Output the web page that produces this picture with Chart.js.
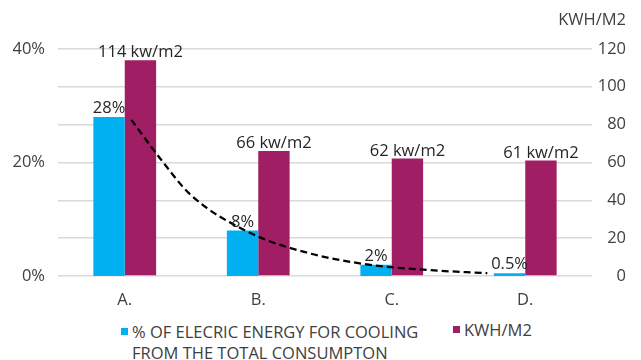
<!DOCTYPE html>
<html>
<head>
<meta charset="utf-8">
<script src="https://cdn.jsdelivr.net/npm/chart.js@4/dist/chart.umd.min.js"></script>
<style>
  html, body { margin: 0; padding: 0; background: #fff; }
  #wrap { position: relative; width: 641px; height: 360px; font-family: "Open Sans", sans-serif; color: #404040; }
  #chart-box { position: absolute; left: 0; top: 0; width: 641px; height: 312px; }
  .legend-item { position: absolute; font-size: 16.5px; line-height: 21px; }
  .legend-item .sw { position: absolute; width: 7px; height: 7px; left: 0; top: 7px; }
  .legend-item .txt { margin-left: 11px; }
</style>
</head>
<body>
<div id="wrap">
  <div id="chart-box"><canvas id="c"></canvas></div>
  <div class="legend-item" style="left:121px; top:321px;">
    <span class="sw" style="background:#00B0F0"></span>
    <div class="txt">% OF ELECRIC ENERGY FOR COOLING<br>FROM THE TOTAL CONSUMPTON</div>
  </div>
  <div class="legend-item" style="left:453px; top:319px;">
    <span class="sw" style="background:#A01E64"></span>
    <div class="txt">KWH/M2</div>
  </div>
</div>
<script>
// données
const categories = ['A.', 'B.', 'C.', 'D.'];
const coolingPct = [28, 8, 2, 0.5];      // % énergie pour le refroidissement
const kwhPerM2 = [114, 66, 62, 61];       // KWH/M2
// courbe de tendance en pointillés (position en catégories, valeur en %)
const trendPos = [0, 0.25, 0.5, 1, 1.5, 2, 2.5, 3];
const trendPct = [27.5, 20.5, 14.3, 7.6, 4.0, 2.0, 1.05, 0.5];
const pctTicks = [0, 20, 40];
const kwhTicks = [0, 20, 40, 60, 80, 100, 120];

const blue = '#00B0F0';
const purple = '#A01E64';
const textColor = '#404040';
const fontFamily = '"Open Sans", sans-serif';
const fontSize = 16.5;

Chart.defaults.font.family = fontFamily;
Chart.defaults.font.size = fontSize;
Chart.defaults.color = textColor;

// étiquettes au-dessus des barres
const barLabels = {
    id: 'barLabels',
    afterDatasetsDraw(chart) {
        const ctx = chart.ctx;
        ctx.save();
        ctx.font = fontSize + 'px ' + fontFamily;
        ctx.fillStyle = '#262626';
        ctx.textAlign = 'center';
        ctx.textBaseline = 'alphabetic';
        chart.getDatasetMeta(1).data.forEach((bar, i) => {
            ctx.fillText(coolingPct[i] + '%', bar.x, bar.y - 4);
        });
        chart.getDatasetMeta(2).data.forEach((bar, i) => {
            ctx.fillText(kwhPerM2[i] + ' kw/m2', bar.x, bar.y - 3);
        });
        ctx.restore();
    }
};

// la tendance suit le centre des barres bleues (comme dans Excel)
const shiftTrend = {
    id: 'shiftTrend',
    beforeDatasetDraw(chart, args) {
        if (args.index !== 0) return;
        const blueBar = chart.getDatasetMeta(1).data[0];
        const dx = blueBar.x - chart.scales.x.getPixelForValue(0);
        chart.ctx.save();
        chart.ctx.translate(dx, 0);
    },
    afterDatasetDraw(chart, args) {
        if (args.index !== 0) return;
        chart.ctx.restore();
    }
};

new Chart(document.getElementById('c'), {
    type: 'bar',
    data: {
        labels: categories,
        datasets: [
            {
                type: 'line',
                label: 'tendance',
                data: trendPos.map((p, i) => ({ x: p, y: trendPct[i] })),
                xAxisID: 'xt',
                yAxisID: 'y',
                borderColor: '#000',
                borderWidth: 2.25,
                borderDash: [7, 4],
                pointRadius: 0,
                cubicInterpolationMode: 'monotone',
                fill: false,
                clip: false,
                order: 0
            },
            {
                label: '% OF ELECRIC ENERGY FOR COOLING FROM THE TOTAL CONSUMPTON',
                data: coolingPct,
                backgroundColor: blue,
                yAxisID: 'y',
                categoryPercentage: 0.94,
                barPercentage: 1,
                order: 1
            },
            {
                label: 'KWH/M2',
                data: kwhPerM2,
                backgroundColor: purple,
                yAxisID: 'y1',
                categoryPercentage: 0.94,
                barPercentage: 1,
                order: 1
            }
        ]
    },
    options: {
        responsive: true,
        maintainAspectRatio: false,
        animation: false,
        layout: { padding: { left: 0, right: 15, top: 0, bottom: 0 } },
        plugins: {
            legend: { display: false },
            tooltip: { enabled: false },
            title: {
                display: true,
                text: 'KWH/M2',
                align: 'end',
                color: textColor,
                font: { size: fontSize, weight: 'normal' },
                padding: { top: 10, bottom: 19 }
            }
        },
        scales: {
            x: {
                grid: { display: false },
                border: { display: false },
                ticks: { padding: 6, color: textColor },
                afterFit: (scale) => { scale.height = 36; }
            },
            xt: {
                type: 'linear',
                display: false,
                min: -0.5,
                max: 3.5
            },
            y: {
                position: 'left',
                min: 0,
                max: 40,
                afterBuildTicks: (scale) => { scale.ticks = pctTicks.map(v => ({ value: v })); },
                ticks: { padding: 13, callback: (v) => v + '%' },
                grid: { display: false, drawTicks: false },
                border: { display: false },
                afterFit: (scale) => { scale.width = 58; }
            },
            y1: {
                position: 'right',
                min: 0,
                max: 120,
                afterBuildTicks: (scale) => { scale.ticks = kwhTicks.map(v => ({ value: v })); },
                ticks: { crossAlign: 'far' },
                grid: { color: '#d9d9d9', lineWidth: 1.5, drawTicks: false },
                border: { display: false },
                afterFit: (scale) => { scale.width = 34; }
            }
        }
    },
    plugins: [barLabels, shiftTrend]
});
</script>
</body>
</html>
